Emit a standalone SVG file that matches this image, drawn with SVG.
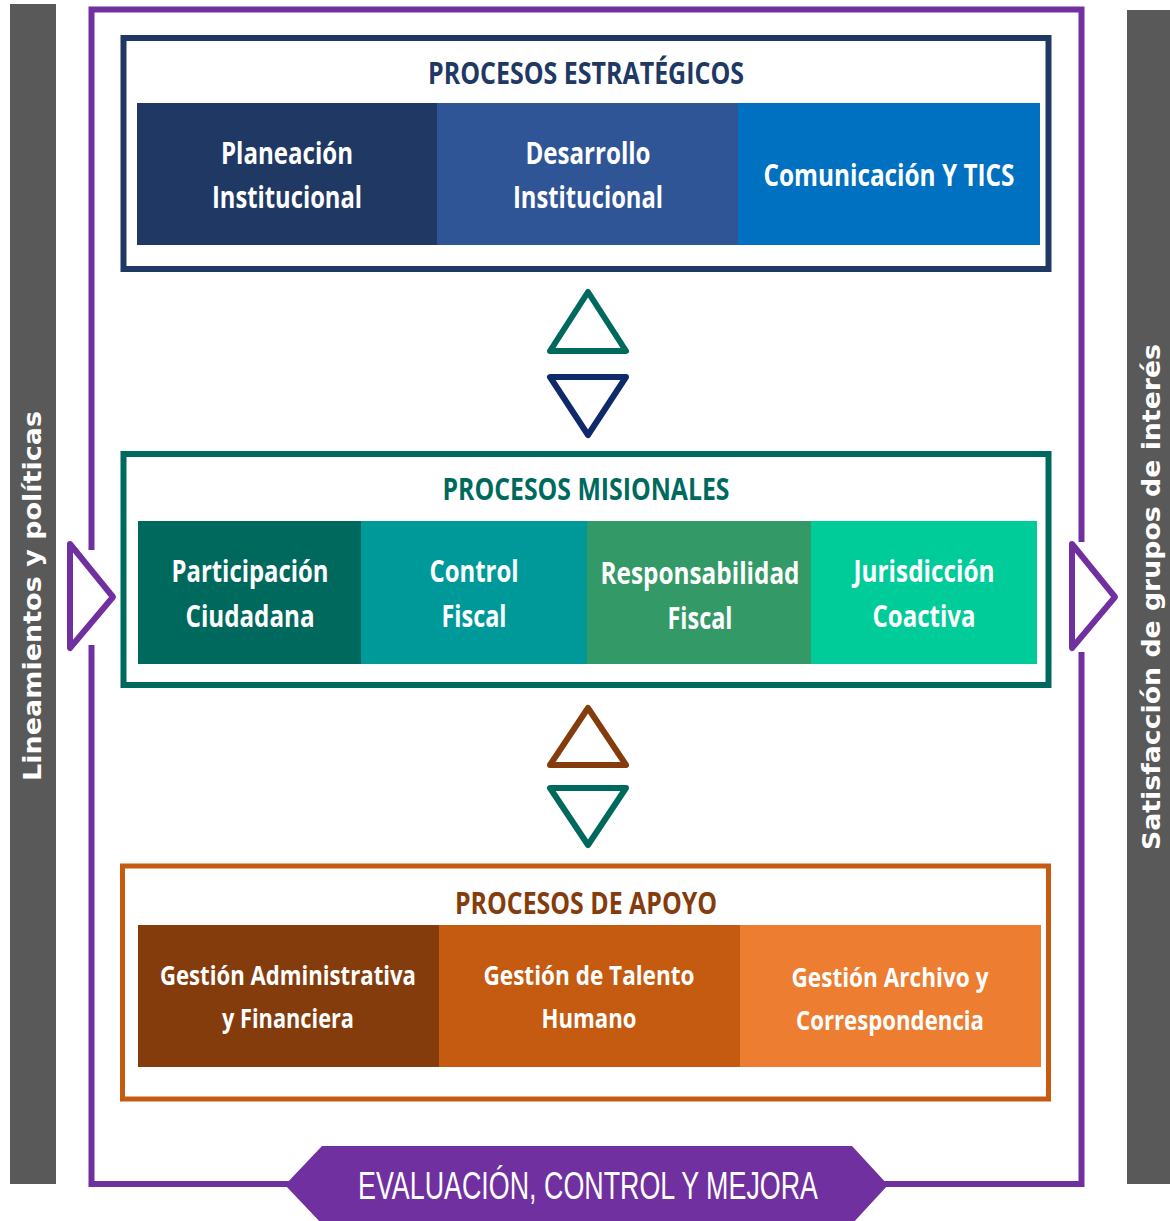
<svg xmlns="http://www.w3.org/2000/svg" width="1170" height="1221" viewBox="0 0 1170 1221">
<style>
.cell{font-family:"Open Sans","Liberation Sans",sans-serif;font-weight:bold;fill:#fff;text-anchor:middle}
.t30{font-size:31px}
.t27{font-size:27px}
.title{font-family:"Open Sans","Liberation Sans",sans-serif;font-weight:bold;font-size:30px;text-anchor:middle}
.side{font-family:"DejaVu Sans","Liberation Sans",sans-serif;font-weight:bold;font-size:25px;fill:#fff;text-anchor:middle}
.tri{fill:none;stroke-width:6;stroke-linejoin:round}
</style>
<rect width="1170" height="1221" fill="#fff"/>
<g id="left-bar">
<rect x="10" y="4" width="46" height="1180" fill="#595959"/>
<text class="side" transform="translate(41,596) rotate(-90)" textLength="370" lengthAdjust="spacingAndGlyphs">Lineamientos y políticas</text>
</g>
<g id="right-bar">
<rect x="1127" y="10" width="43" height="1174" fill="#595959"/>
<text class="side" transform="translate(1160,597) rotate(-90)" textLength="506" lengthAdjust="spacingAndGlyphs">Satisfacción de grupos de interés</text>
</g>
<g id="frame">
<path d="M91.5,550 V9.5 H1081.5 V542 M1081.5,652 V1184 H91.5 V645" fill="none" stroke="#7030A0" stroke-width="6"/>
</g>
<g id="connectors">
<polygon class="tri" points="70,544 113,597 70,648" stroke="#7030A0" stroke-width="5"/>
<polygon class="tri" points="1072,544 1115,597 1072,648" stroke="#7030A0" stroke-width="5"/>
<polygon class="tri" points="588,292 626,351 550,351" stroke="#00695E"/>
<polygon class="tri" points="550,377 626,377 588,435" stroke="#0E2A6B"/>
<polygon class="tri" points="588,708 626,765 550,765" stroke="#843C0C"/>
<polygon class="tri" points="550,788 626,788 588,845" stroke="#00695E"/>
</g>
<g id="estrategicos">
<rect x="123.5" y="38" width="925" height="231" fill="#fff" stroke="#203864" stroke-width="6"/>
<text class="title" x="586" y="84" fill="#203864" textLength="316" lengthAdjust="spacingAndGlyphs">PROCESOS ESTRATÉGICOS</text>
<rect x="137" y="103" width="301" height="142" fill="#203864"/>
<rect x="437" y="103" width="302" height="142" fill="#2F5597"/>
<rect x="738" y="103" width="302" height="142" fill="#0070C0"/>
<text class="cell t30" x="287" y="164" textLength="132" lengthAdjust="spacingAndGlyphs">Planeación</text>
<text class="cell t30" x="287" y="208" textLength="150" lengthAdjust="spacingAndGlyphs">Institucional</text>
<text class="cell t30" x="588" y="164" textLength="125" lengthAdjust="spacingAndGlyphs">Desarrollo</text>
<text class="cell t30" x="588" y="208" textLength="150" lengthAdjust="spacingAndGlyphs">Institucional</text>
<text class="cell t30" x="889" y="186" textLength="251" lengthAdjust="spacingAndGlyphs">Comunicación Y TICS</text>
</g>
<g id="misionales">
<rect x="123.5" y="454" width="925" height="231" fill="#fff" stroke="#00695E" stroke-width="6"/>
<text class="title" x="586" y="500" fill="#00695E" textLength="287" lengthAdjust="spacingAndGlyphs">PROCESOS MISIONALES</text>
<rect x="138" y="521" width="224" height="143" fill="#00695E"/>
<rect x="361" y="521" width="227" height="143" fill="#009999"/>
<rect x="587" y="521" width="225" height="143" fill="#339966"/>
<rect x="811" y="521" width="226" height="143" fill="#00CC99"/>
<text class="cell t30" x="250" y="582" textLength="157" lengthAdjust="spacingAndGlyphs">Participación</text>
<text class="cell t30" x="250" y="627" textLength="129" lengthAdjust="spacingAndGlyphs">Ciudadana</text>
<text class="cell t30" x="474" y="582" textLength="89" lengthAdjust="spacingAndGlyphs">Control</text>
<text class="cell t30" x="474" y="627" textLength="65" lengthAdjust="spacingAndGlyphs">Fiscal</text>
<text class="cell t30" x="700" y="584" textLength="199" lengthAdjust="spacingAndGlyphs">Responsabilidad</text>
<text class="cell t30" x="700" y="629" textLength="65" lengthAdjust="spacingAndGlyphs">Fiscal</text>
<text class="cell t30" x="924" y="582" textLength="141" lengthAdjust="spacingAndGlyphs">Jurisdicción</text>
<text class="cell t30" x="924" y="627" textLength="103" lengthAdjust="spacingAndGlyphs">Coactiva</text>
</g>
<g id="apoyo">
<rect x="122.5" y="866" width="926" height="233" fill="#fff" stroke="#C55A11" stroke-width="5"/>
<text class="title" x="586" y="914" fill="#843C0C" textLength="262" lengthAdjust="spacingAndGlyphs">PROCESOS DE APOYO</text>
<rect x="138" y="925" width="302" height="142" fill="#843C0C"/>
<rect x="439" y="925" width="302" height="142" fill="#C55A11"/>
<rect x="740" y="925" width="301" height="142" fill="#ED7D31"/>
<text class="cell t27" x="288" y="985" textLength="256" lengthAdjust="spacingAndGlyphs">Gestión Administrativa</text>
<text class="cell t27" x="288" y="1028" textLength="132" lengthAdjust="spacingAndGlyphs">y Financiera</text>
<text class="cell t27" x="589" y="985" textLength="211" lengthAdjust="spacingAndGlyphs">Gestión de Talento</text>
<text class="cell t27" x="589" y="1028" textLength="95" lengthAdjust="spacingAndGlyphs">Humano</text>
<text class="cell t27" x="890" y="987" textLength="197" lengthAdjust="spacingAndGlyphs">Gestión Archivo y</text>
<text class="cell t27" x="890" y="1030" textLength="188" lengthAdjust="spacingAndGlyphs">Correspondencia</text>
</g>
<g id="evaluacion">
<polygon points="285,1185 322,1146 852,1146 888,1185 852,1224 322,1224" fill="#7030A0"/>
<text x="588" y="1199" font-family="'Liberation Sans',sans-serif" font-size="39" fill="#fff" text-anchor="middle" textLength="460" lengthAdjust="spacingAndGlyphs">EVALUACIÓN, CONTROL Y MEJORA</text>
</g>
</svg>
